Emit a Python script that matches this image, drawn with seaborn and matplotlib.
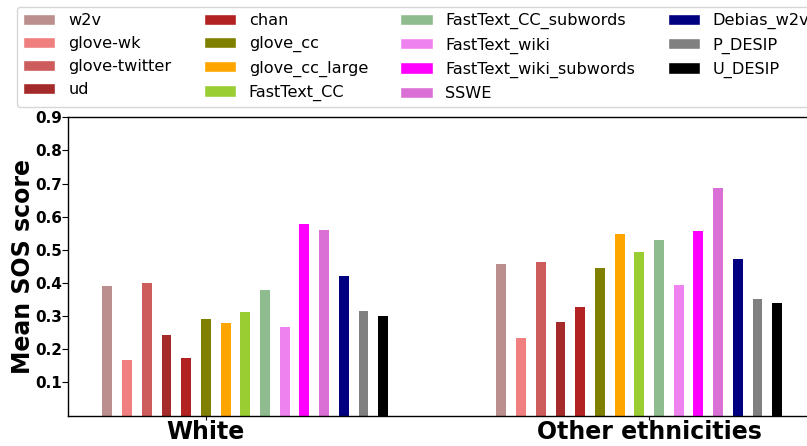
import numpy as np
import pandas as pd
import matplotlib
matplotlib.use("Agg")
import matplotlib.pyplot as plt
from matplotlib.patches import Patch
import seaborn as sns

groups = ["White", "Other ethnicities"]
group_ticks = [0.25, 1.375]
models = ["w2v", "glove-wk", "glove-twitter", "ud", "chan", "glove_cc",
          "glove_cc_large", "FastText_CC", "FastText_CC_subwords",
          "FastText_wiki", "FastText_wiki_subwords", "SSWE", "Debias_w2v",
          "P_DESIP", "U_DESIP"]
white_scores = [0.390, 0.169, 0.399, 0.242, 0.175, 0.290, 0.278, 0.311,
                0.378, 0.266, 0.577, 0.559, 0.420, 0.314, 0.299]
other_scores = [0.456, 0.233, 0.462, 0.281, 0.326, 0.444, 0.547, 0.492,
                0.529, 0.393, 0.556, 0.686, 0.471, 0.353, 0.341]
colors = ["rosybrown", "lightcoral", "indianred", "brown", "firebrick",
          "olive", "orange", "yellowgreen", "darkseagreen", "violet",
          "magenta", "orchid", "navy", "gray", "black"]
y_ticks = [0.1, 0.2, 0.3, 0.4, 0.5, 0.6, 0.7, 0.8, 0.9]

# one bar per model, stepped inside each group
bar_step = 0.05
rows = []
for g, (group, scores) in enumerate(zip(groups, [white_scores, other_scores])):
    for i, (model, score) in enumerate(zip(models, scores)):
        rows.append({"pos": round(g + i * bar_step, 4), "model": model,
                     "score": score})
df = pd.DataFrame(rows)

sns.set_style("ticks")
plt.rcParams.update({
    "font.family": ["DejaVu Sans"],
    "text.color": "black",
    "axes.labelcolor": "black",
    "xtick.color": "black",
    "ytick.color": "black",
    "axes.edgecolor": "black",
})

fig = plt.figure(figsize=(8.07, 4.46), dpi=100)
ax = fig.add_axes([68 / 807, 30.5 / 446, 762 / 807, 298.2 / 446])

sns.barplot(data=df, x="pos", y="score", hue="model", hue_order=models,
            palette=colors, saturation=1, native_scale=True, dodge=False,
            width=0.5, errorbar=None, legend=False, linewidth=0, ax=ax)

ax.set_xlim(-0.10, -0.10 + 762 / 394)
ax.set_ylim(0, 0.9)
ax.set_yticks(y_ticks)
ax.set_yticklabels([f"{t:.1f}" for t in y_ticks], fontsize=11,
                   fontweight="bold")
ax.set_xticks(group_ticks)
ax.set_xticklabels(groups, fontsize=17, fontweight="bold")
ax.set_xlabel("")
ax.set_ylabel("Mean SOS score", fontsize=17, fontweight="bold", labelpad=0)
ax.tick_params(axis="x", length=3, pad=0, color="black")
ax.tick_params(axis="y", length=4, pad=0.5, color="black")
for side in ax.spines.values():
    side.set_linewidth(1.0)

handles = [Patch(facecolor=c, label=m) for m, c in zip(models, colors)]
fig.legend(handles=handles, loc="upper left",
           bbox_to_anchor=(16.7 / 807, 1 - 6.7 / 446), ncol=4, fontsize=11.6,
           borderaxespad=0)

fig.savefig("out.png", dpi=100)
